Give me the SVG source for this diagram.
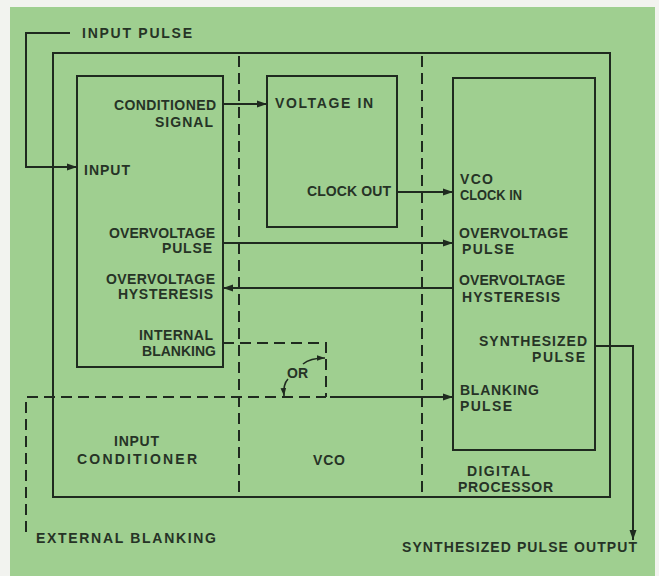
<svg xmlns="http://www.w3.org/2000/svg" width="659" height="576" viewBox="0 0 659 576">
<defs>
<style>
.bg{fill:#9fcf90}
.box{fill:none;stroke:#1f2a1f;stroke-width:2}
.ln{fill:none;stroke:#1f2a1f;stroke-width:2}
.dash{fill:none;stroke:#1f2a1f;stroke-width:2;stroke-dasharray:11 6}
.thin{fill:none;stroke:#1f2a1f;stroke-width:1.6}
text{font-family:"Liberation Sans",Arial,sans-serif;font-size:14px;font-weight:bold;fill:#263326}
.r{text-anchor:end}
</style>
<marker id="ah" viewBox="0 0 10 10" refX="10" refY="5" markerWidth="10" markerHeight="10" markerUnits="userSpaceOnUse" orient="auto">
<path d="M0,1.5 L10,5 L0,8.5 Z" fill="#1f2a1f"/>
</marker>
<marker id="ahs" viewBox="0 0 10 10" refX="10" refY="5" markerWidth="8" markerHeight="8" markerUnits="userSpaceOnUse" orient="auto">
<path d="M0,1.5 L10,5 L0,8.5 Z" fill="#1f2a1f"/>
</marker>
</defs>
<rect x="0" y="0" width="659" height="576" fill="#f2f3ef"/>
<rect class="bg" x="10" y="7" width="645" height="569"/>

<g id="system">
<rect class="box" x="53" y="53" width="557" height="444"/>
<line class="dash" x1="239" y1="56" x2="239" y2="496"/>
<line class="dash" x1="422" y1="56" x2="422" y2="496"/>
</g>

<g id="input-conditioner">
<rect class="box" x="77" y="76" width="146" height="291"/>
<text x="84" y="175" textLength="46" lengthAdjust="spacing">INPUT</text>
<text class="r" x="216" y="110" textLength="102" lengthAdjust="spacing">CONDITIONED</text>
<text class="r" x="213" y="127" textLength="58" lengthAdjust="spacing">SIGNAL</text>
<text class="r" x="215" y="238" textLength="106" lengthAdjust="spacing">OVERVOLTAGE</text>
<text class="r" x="212" y="253" textLength="50" lengthAdjust="spacing">PULSE</text>
<text class="r" x="215" y="284" textLength="109" lengthAdjust="spacing">OVERVOLTAGE</text>
<text class="r" x="213" y="299" textLength="95" lengthAdjust="spacing">HYSTERESIS</text>
<text class="r" x="213" y="340" textLength="74" lengthAdjust="spacing">INTERNAL</text>
<text class="r" x="216" y="356" textLength="74" lengthAdjust="spacing">BLANKING</text>
<text x="114" y="446" textLength="45" lengthAdjust="spacing">INPUT</text>
<text x="77" y="464" textLength="120" lengthAdjust="spacing">CONDITIONER</text>
</g>

<g id="vco">
<rect class="box" x="267" y="76" width="130" height="151"/>
<text x="275" y="108" textLength="98" lengthAdjust="spacing">VOLTAGE IN</text>
<text class="r" x="391" y="196" textLength="84" lengthAdjust="spacing">CLOCK OUT</text>
<text x="313" y="465" textLength="32" lengthAdjust="spacing">VCO</text>
</g>

<g id="digital-processor">
<rect class="box" x="453" y="78" width="142" height="372"/>
<text x="460" y="184" textLength="33" lengthAdjust="spacing">VCO</text>
<text x="460" y="200" textLength="62" lengthAdjust="spacingAndGlyphs">CLOCK IN</text>
<text x="459" y="238" textLength="109" lengthAdjust="spacing">OVERVOLTAGE</text>
<text x="462" y="254" textLength="52" lengthAdjust="spacing">PULSE</text>
<text x="459" y="285" textLength="106" lengthAdjust="spacing">OVERVOLTAGE</text>
<text x="462" y="302" textLength="98" lengthAdjust="spacing">HYSTERESIS</text>
<text class="r" x="587" y="346" textLength="108" lengthAdjust="spacing">SYNTHESIZED</text>
<text class="r" x="585" y="362" textLength="53" lengthAdjust="spacing">PULSE</text>
<text x="460" y="395" textLength="79" lengthAdjust="spacing">BLANKING</text>
<text x="460" y="411" textLength="52" lengthAdjust="spacing">PULSE</text>
<text x="467" y="476" textLength="63" lengthAdjust="spacing">DIGITAL</text>
<text x="458" y="492" textLength="95" lengthAdjust="spacing">PROCESSOR</text>
</g>

<g id="external-labels">
<text x="82" y="38" textLength="110" lengthAdjust="spacing">INPUT PULSE</text>
<text x="36" y="543" textLength="180" lengthAdjust="spacing">EXTERNAL BLANKING</text>
<text x="402" y="552" textLength="235" lengthAdjust="spacing">SYNTHESIZED PULSE OUTPUT</text>
<text x="287" y="378" textLength="21" lengthAdjust="spacing">OR</text>
</g>

<g id="connectors">
<polyline class="ln" points="70,33 26,33 26,167 77,167" marker-end="url(#ah)"/>
<line class="ln" x1="223" y1="104" x2="267" y2="104" marker-end="url(#ah)"/>
<line class="ln" x1="397" y1="192" x2="453" y2="192" marker-end="url(#ah)"/>
<line class="ln" x1="223" y1="243" x2="453" y2="243" marker-end="url(#ah)"/>
<line class="ln" x1="453" y1="288" x2="223" y2="288" marker-end="url(#ah)"/>
<polyline class="dash" points="223,343 326,343 326,397"/>
<polyline class="dash" points="26,532 26,397 326,397"/>
<line class="ln" x1="330" y1="397" x2="453" y2="397" marker-end="url(#ah)"/>
<path class="thin" d="M303,364 Q310,358 325,358" marker-end="url(#ahs)"/>
<path class="thin" d="M288,379 Q283,384 284,396" marker-end="url(#ahs)"/>
<polyline class="ln" points="595,346 633,346 633,540" marker-end="url(#ah)"/>
</g>
</svg>
